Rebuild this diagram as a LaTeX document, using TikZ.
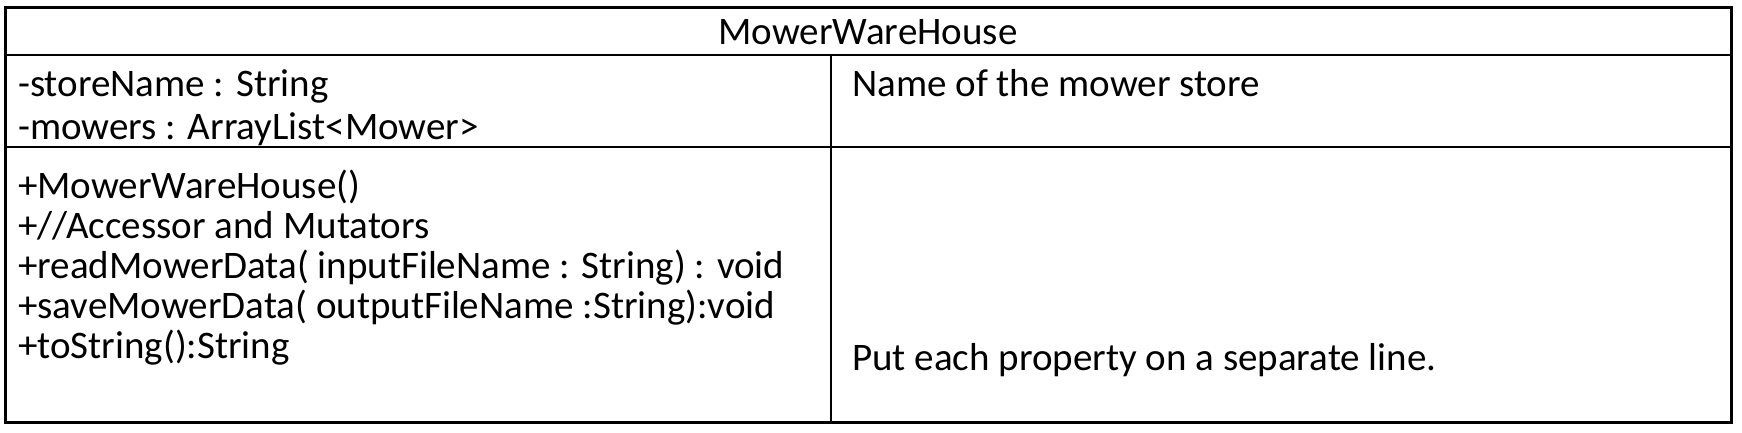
\documentclass[tikz,border=0pt]{standalone}
\usepackage{fontspec}
\setmainfont{Carlito}
\begin{document}
\begin{tikzpicture}[x=1pt,y=-1pt,
  txt/.style={anchor=base west,inner sep=0pt,font=\fontsize{39}{47}\selectfont},
  hdr/.style={anchor=base,inner sep=0pt,font=\fontsize{39}{47}\selectfont},
  outer/.style={line width=3pt},
  inner/.style={line width=2.5pt}]
\useasboundingbox (0,0) rectangle (1742,432);
\coordinate (tl) at (5,7);
\coordinate (br) at (1731,422);
\draw[outer] (tl) rectangle (br);
\coordinate (h1) at (5,55);
\coordinate (h2) at (1731,55);
\coordinate (r1) at (5,147);
\coordinate (r2) at (1731,147);
\coordinate (c1) at (831,55);
\coordinate (c2) at (831,422);
\draw[inner] (h1) -- (h2);
\draw[inner] (r1) -- (r2);
\draw[inner] (c1) -- (c2);
\node[hdr] (title) at (868,44) {MowerWareHouse};
\node[txt] (a1) at (18,96) {-storeName : String};
\node[txt] (a2) at (18,139) {-mowers : ArrayList<Mower>};
\node[txt] (d1) at (852,96) {Name of the mower store};
\node[txt] (m1) at (18,198) {+MowerWareHouse()};
\node[txt] (m2) at (18,238) {+//Accessor and Mutators};
\node[txt] (m3) at (18,278) {+readMowerData( inputFileName : String) : void};
\node[txt] (m4) at (18,318) {+saveMowerData( outputFileName :String):void};
\node[txt] (m5) at (18,358) {+toString():String};
\node[txt] (d2) at (852,370) {Put each property on a separate line.};
\end{tikzpicture}
\end{document}
